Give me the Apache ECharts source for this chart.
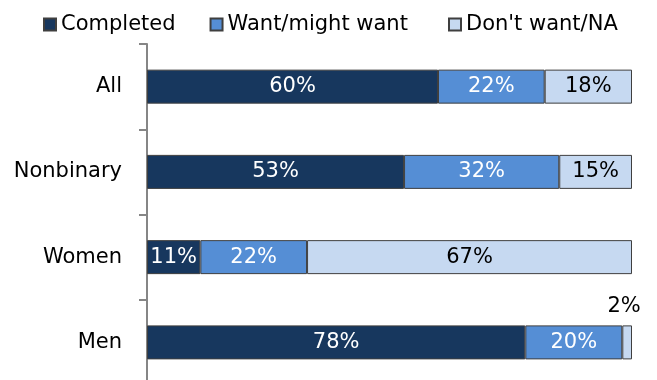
<!DOCTYPE html>
<html><head><meta charset="utf-8">
<script src="https://cdn.jsdelivr.net/npm/echarts@6/dist/echarts.min.js"></script>
<style>html,body{margin:0;padding:0;background:#fff}#c{width:657px;height:380px}</style>
</head><body><div id="c"></div>
<script>
const categories = ['All', 'Nonbinary', 'Women', 'Men'];
const seriesNames = ['Completed', 'Want/might want', "Don't want/NA"];
const completed = [60, 53, 11, 78];
const wantMight = [22, 32, 22, 20];
const dontWant = [18, 15, 67, 2];
const colors = ['#17375E', '#558ED5', '#C6D9F1'];
const labelColors = ['#ffffff', '#ffffff', '#000000'];
const FONT = 'DejaVu Sans';

const chart = echarts.init(document.getElementById('c'), null, {renderer: 'canvas'});
const dataSets = [completed, wantMight, dontWant];
const series = dataSets.map((d, i) => ({
  name: seriesNames[i],
  type: 'bar',
  stack: 'total',
  barWidth: 34,
  itemStyle: {color: colors[i], borderColor: '#3f3f3f', borderWidth: 1},
  label: {show: true, position: 'inside', color: labelColors[i], fontFamily: FONT, fontSize: 21, formatter: '{c}%'},
  data: d.map((v, j) => {
    if (v < 5) {
      return {value: v, label: {position: 'top', distance: 8, offset: [-3, 0], color: '#000'}};
    }
    return v;
  })
}));

const legendCommon = {
  top: 14, padding: 0, icon: 'rect',
  itemWidth: 12, itemHeight: 12, itemGap: 34,
  textStyle: {fontFamily: FONT, fontSize: 21, color: '#000'}
};

chart.setOption({
  animation: false,
  textStyle: {fontFamily: FONT},
  legend: [
    Object.assign({}, legendCommon, {left: 43, data: seriesNames.slice(0, 2)}),
    Object.assign({}, legendCommon, {left: 448, data: seriesNames.slice(2)})
  ],
  grid: {left: 147, right: 25, top: 44, height: 341, containLabel: false, outerBoundsMode: 'none'},
  xAxis: {type: 'value', min: 0, max: 100, show: false},
  yAxis: {
    type: 'category', data: categories, inverse: true,
    axisLine: {lineStyle: {color: '#868686', width: 2}},
    axisTick: {show: true, length: 8, lineStyle: {color: '#868686', width: 2}},
    axisLabel: {fontFamily: FONT, fontSize: 21, color: '#000', margin: 25}
  },
  series: series
});
</script></body></html>
